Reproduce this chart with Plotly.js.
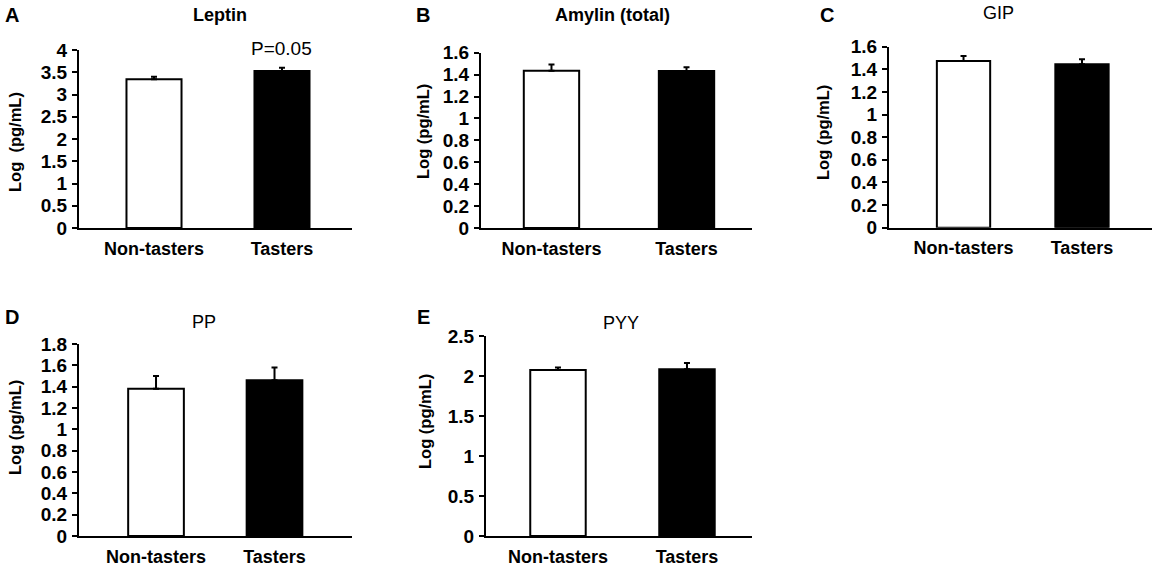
<!DOCTYPE html>
<html>
<head>
<meta charset="utf-8">
<script src="https://cdn.plot.ly/plotly-3.0.1.min.js"></script>
<style>html,body{margin:0;padding:0;background:#fff;}#chart{width:1158px;height:572px;}</style>
</head>
<body>
<div id="chart"></div>
<script>
const categories = ['Non-tasters', 'Tasters'];
const panelLetters = ['A', 'B', 'C', 'D', 'E'];
const panelTitles = ['Leptin', 'Amylin (total)', 'GIP', 'PP', 'PYY'];
const yTitles = ['Log  (pg/mL)', 'Log (pg/mL)', 'Log (pg/mL)', 'Log (pg/mL)', 'Log (pg/mL)'];
const barColors = ['#ffffff', '#000000'];

const leptinMean = [3.34, 3.53];
const leptinErr = [0.06, 0.07];
const amylinMean = [1.435, 1.432];
const amylinErr = [0.058, 0.035];
const gipMean = [1.474, 1.444];
const gipErr = [0.044, 0.045];
const ppMean = [1.38, 1.46];
const ppErr = [0.12, 0.12];
const pyyMean = [2.075, 2.084];
const pyyErr = [0.03, 0.08];

const yMax = [4, 1.6, 1.6, 1.8, 2.5];
const yStep = [0.5, 0.2, 0.2, 0.2, 0.5];
const pNote = 'P=0.05';

const means = [leptinMean, amylinMean, gipMean, ppMean, pyyMean];
const errs = [leptinErr, amylinErr, gipErr, ppErr, pyyErr];

// layout geometry (pixels in 1158x572 canvas)
const W = 1158, H = 572;
const panels = [
  {x0: 79, x1: 352, yb: 228, yt: 50, xr: [-0.586, 1.547], bw: 0.43, lx: 12, ly: 15, tx: 220, ty: 15, bold: true, ytx: 15, yty: 142},
  {x0: 481, x1: 752, yb: 228, yt: 52.7, xr: [-0.522, 1.485], bw: 0.41, lx: 423, ly: 15, tx: 612, ty: 15, bold: true, ytx: 423, yty: 132},
  {x0: 889, x1: 1152, yb: 227.7, yt: 46.7, xr: [-0.629, 1.591], bw: 0.45, lx: 827, ly: 15, tx: 998, ty: 13, bold: false, ytx: 823, yty: 133},
  {x0: 79, x1: 352, yb: 536, yt: 344, xr: [-0.65, 1.654], bw: 0.47, lx: 12, ly: 317, tx: 204, ty: 322, bold: false, ytx: 15, yty: 428},
  {x0: 486, x1: 752, yb: 536, yt: 336, xr: [-0.558, 1.504], bw: 0.43, lx: 423, ly: 317, tx: 621, ty: 323, bold: false, ytx: 425, yty: 422}
];

const FONT = 'Liberation Sans, Arial, sans-serif';
const data = [];
const layout = {
  width: W, height: H,
  margin: {l: 0, r: 0, t: 0, b: 0},
  paper_bgcolor: '#fff', plot_bgcolor: 'rgba(0,0,0,0)',
  showlegend: false,
  font: {family: FONT, color: '#000', size: 16},
  annotations: []
};

panels.forEach((p, i) => {
  const n = i + 1;
  const xa = n === 1 ? 'x' : 'x' + n;
  const ya = n === 1 ? 'y' : 'y' + n;
  data.push({
    type: 'bar', x: categories, y: means[i], xaxis: xa, yaxis: ya,
    width: p.bw,
    marker: {color: barColors, line: {color: '#000', width: 2}},
    error_y: {type: 'data', symmetric: false, array: errs[i], arrayminus: [0, 0], color: '#000', thickness: 2, width: 3},
    hoverinfo: 'none'
  });
  layout['xaxis' + (n === 1 ? '' : n)] = {
    domain: [p.x0 / W, p.x1 / W], anchor: ya, range: p.xr,
    showline: true, linewidth: 2, linecolor: '#000', ticks: '', showgrid: false, zeroline: false,
    tickfont: {family: FONT, size: 18, weight: 'bold'}, ticklabelstandoff: 3, fixedrange: true
  };
  const tv = [];
  for (let v = 0; v <= yMax[i] + 1e-9; v += yStep[i]) tv.push(Math.round(v * 10) / 10);
  layout['yaxis' + (n === 1 ? '' : n)] = {
    domain: [1 - p.yb / H, 1 - p.yt / H], anchor: xa, range: [0, yMax[i]],
    tickvals: tv, ticktext: tv.map(v => String(v)),
    showline: true, linewidth: 2, linecolor: '#000', ticks: 'outside', ticklen: 5, tickwidth: 2, tickcolor: '#000',
    showgrid: false, zeroline: false,
    tickfont: {family: FONT, size: 19, weight: 'bold'}, ticklabelstandoff: 1, fixedrange: true
  };
  layout.annotations.push({
    xref: 'paper', yref: 'paper', x: p.lx / W, y: 1 - p.ly / H, xanchor: 'center', yanchor: 'middle',
    text: '<b>' + panelLetters[i] + '</b>', showarrow: false, font: {family: FONT, size: 20}
  });
  layout.annotations.push({
    xref: 'paper', yref: 'paper', x: p.tx / W, y: 1 - p.ty / H, xanchor: 'center', yanchor: 'middle',
    text: p.bold ? '<b>' + panelTitles[i] + '</b>' : panelTitles[i], showarrow: false, font: {family: FONT, size: 18}
  });
  layout.annotations.push({
    xref: 'paper', yref: 'paper', x: p.ytx / W, y: 1 - p.yty / H, xanchor: 'center', yanchor: 'middle',
    text: '<b>' + yTitles[i].replace(/  /g, '&nbsp;&nbsp;') + '</b>', textangle: -90, showarrow: false, font: {family: FONT, size: 16.5}
  });
});

layout.annotations.push({
  xref: 'x', yref: 'paper', x: categories[1], y: 1 - 48 / H, xanchor: 'center', yanchor: 'middle',
  text: pNote, showarrow: false, font: {family: FONT, size: 19}
});

Plotly.newPlot('chart', data, layout, {displayModeBar: false, staticPlot: true});
</script>
</body>
</html>
